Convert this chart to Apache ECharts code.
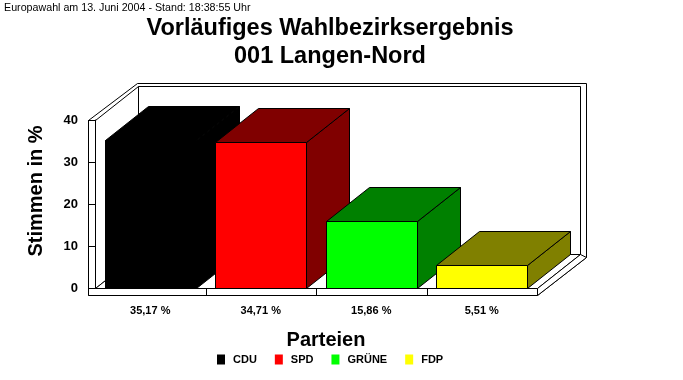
<!DOCTYPE html>
<html><head><meta charset="utf-8">
<script src="https://cdn.jsdelivr.net/npm/echarts@6/dist/echarts.min.js"></script>
<style>html,body{margin:0;padding:0;background:#fff}#c{width:683px;height:380px}</style>
</head><body><div id="c"></div>
<script>
// ---- data ----
const parties = ['CDU', 'SPD', 'GRÜNE', 'FDP'];
const shares = [35.17, 34.71, 15.86, 5.51];
const yMin = 0, yMax = 40, yStep = 10;
const titleLines = ['Vorläufiges Wahlbezirksergebnis', '001 Langen-Nord'];
const subtitle = 'Europawahl am 13. Juni 2004 - Stand: 18:38:55 Uhr';
const yName = 'Stimmen in %';
const xName = 'Parteien';

// ---- styles ----
const frontColors = ['#000000', '#ff0000', '#00ff00', '#ffff00'];
const sideColors = ['#000000', '#800000', '#008000', '#808000'];
const FONT = '"Liberation Sans", Arial, Helvetica, sans-serif';
const DX = 43, DY = -34;   // depth vector of the 3D box
const WT = 7;              // wall / floor thickness
const BAR_RATIO = 0.82;

const p = v => Math.round(v) + 0.5;
const pt = (x, y) => [p(x), p(y)];
const LINE = { stroke: '#000', lineWidth: 1 };
const WHITE = { fill: '#fff', stroke: '#000', lineWidth: 1 };
function fmt(v) { return v.toFixed(2).replace('.', ',') + ' %'; }

function renderFrameBack(params, api) {
  const cs = params.coordSys;
  const L = cs.x, T = cs.y, R = cs.x + cs.width, B = cs.y + cs.height;
  return { type: 'group', children: [
    { type: 'polygon', shape: { points: [pt(L - WT, T), pt(L + DX - 1, T + DY - 3), pt(R + DX + 6, T + DY - 3), pt(R + DX + 6, B + DY + 3), pt(R, B + WT), pt(L - WT, B + WT)] }, style: WHITE },
    { type: 'polygon', shape: { points: [pt(L + DX, T + DY), pt(R + DX, T + DY), pt(R + DX, B + DY), pt(L + DX, B + DY)] }, style: WHITE },
    { type: 'polygon', shape: { points: [pt(L, T), pt(L + DX, T + DY), pt(L + DX, B + DY), pt(L, B)] }, style: WHITE },
    { type: 'polygon', shape: { points: [pt(L, B), pt(L + DX, B + DY), pt(R + DX, B + DY), pt(R, B)] }, style: WHITE },
    { type: 'polygon', shape: { points: [pt(R, B), pt(R + DX, B + DY), pt(R + DX + 6, B + DY + 3), pt(R, B + WT)] }, style: WHITE }
  ] };
}

function renderFrameFront(params, api) {
  const cs = params.coordSys;
  const L = cs.x, T = cs.y, R = cs.x + cs.width, B = cs.y + cs.height;
  const n = parties.length;
  const children = [
    { type: 'polygon', shape: { points: [pt(L - WT, B), pt(R, B), pt(R, B + WT), pt(L - WT, B + WT)] }, style: WHITE },
    { type: 'polygon', shape: { points: [pt(L - WT, T), pt(L, T), pt(L, B), pt(L - WT, B)] }, style: WHITE }
  ];
  for (let k = 1; k < n; k++) {
    const x = L + k * cs.width / n;
    children.push({ type: 'line', shape: { x1: p(x), y1: p(B), x2: p(x), y2: p(B + WT) }, style: LINE });
  }
  return { type: 'group', children };
}

function makeBarRenderer(i) {
  return function (params, api) {
    const c = api.coord([api.value(0), api.value(1)]);
    const b = api.coord([api.value(0), 0]);
    const w = api.size([1, 0])[0] * BAR_RATIO;
    const x0 = c[0] - w / 2, x1 = c[0] + w / 2, yT = c[1], yB = b[1];
    const sideStyle = { fill: sideColors[i], stroke: '#000', lineWidth: 1 };
    return { type: 'group', children: [
      { type: 'polygon', shape: { points: [pt(x1, yT), pt(x1 + DX, yT + DY), pt(x1 + DX, yB + DY), pt(x1, yB)] }, style: sideStyle },
      { type: 'polygon', shape: { points: [pt(x0, yT), pt(x0 + DX, yT + DY), pt(x1 + DX, yT + DY), pt(x1, yT)] }, style: sideStyle },
      { type: 'polygon', shape: { points: [pt(x0, yT), pt(x1, yT), pt(x1, yB), pt(x0, yB)] }, style: { fill: frontColors[i], stroke: '#000', lineWidth: 1 } }
    ] };
  };
}

const series = [
  { type: 'custom', name: '_back', z: 1, silent: true, clip: false, renderItem: renderFrameBack, data: [[0, 0]] }
];
parties.forEach((name, i) => {
  series.push({
    type: 'custom', name: name, z: 2 + i, clip: false,
    itemStyle: { color: frontColors[i] },
    renderItem: makeBarRenderer(i),
    data: [[i, shares[i]]]
  });
});
series.push({ type: 'custom', name: '_front', z: 7, silent: true, clip: false, renderItem: renderFrameFront, data: [[0, 0]] });

const chart = echarts.init(document.getElementById('c'), null, { renderer: 'canvas' });
chart.setOption({
  animation: false,
  backgroundColor: '#fff',
  title: {
    text: titleLines.join('\n'),
    left: 330, top: 15, padding: 0, textAlign: 'center',
    textStyle: { fontFamily: FONT, fontSize: 23.5, fontWeight: 'bold', lineHeight: 28, color: '#000' }
  },
  graphic: [
    { type: 'text', x: 4, y: 8, style: { text: subtitle, font: '10.7px ' + FONT, fill: '#000', verticalAlign: 'middle' } },
    { type: 'text', x: 36, y: 191, rotation: Math.PI / 2, style: { text: yName, font: 'bold 20px ' + FONT, fill: '#000', align: 'center', verticalAlign: 'middle' } },
    { type: 'text', x: 326, y: 340, style: { text: xName, font: 'bold 20px ' + FONT, fill: '#000', align: 'center', verticalAlign: 'middle' } }
  ],
  legend: {
    data: parties, left: 217, top: 354, padding: 0, icon: 'rect', itemWidth: 8, itemHeight: 10, itemGap: 18,
    selectedMode: false,
    textStyle: { fontFamily: FONT, fontSize: 11, fontWeight: 'bold', color: '#000', padding: [0, 0, 0, 3] }
  },
  grid: { left: 95, right: 146, top: 120, bottom: 92 },
  xAxis: {
    type: 'category', data: parties,
    axisLine: { show: false }, axisTick: { show: false }, splitLine: { show: false },
    axisLabel: { margin: 17, color: '#000', fontFamily: FONT, fontSize: 11, fontWeight: 'bold', formatter: (v, i) => fmt(shares[i]) }
  },
  yAxis: {
    type: 'value', min: yMin, max: yMax, interval: yStep, z: 10,
    axisLine: { show: true, lineStyle: { color: '#000', width: 1 } },
    axisTick: { show: true, length: 7, lineStyle: { color: '#000', width: 1 } },
    splitLine: { show: false },
    axisLabel: { margin: 17, color: '#000', fontFamily: FONT, fontSize: 13, fontWeight: 'bold' }
  },
  series: series
});
</script></body></html>
